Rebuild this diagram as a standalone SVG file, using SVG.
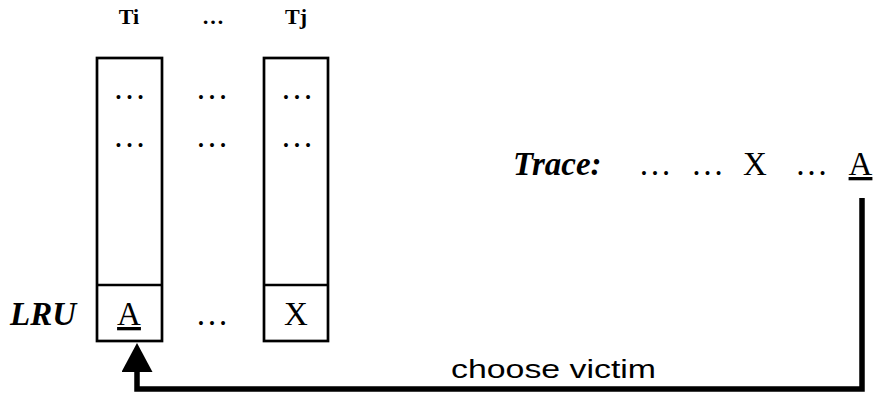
<svg xmlns="http://www.w3.org/2000/svg" width="876" height="394" viewBox="0 0 876 394">
  <defs>
    <style>
      .box { fill: #fff; stroke: #000; stroke-width: 2.7; }
      .hdr { font-family: "Liberation Serif", serif; font-weight: bold; font-size: 22px; text-anchor: middle; }
      .cell { font-family: "Liberation Serif", serif; font-size: 33px; text-anchor: middle; }
      .lbl { font-family: "Liberation Serif", serif; font-weight: bold; font-style: italic; font-size: 33px; }
      .sans { font-family: "Liberation Sans", Arial, sans-serif; font-size: 26px; }
      .wire { fill: none; stroke: #000; stroke-width: 5.5; stroke-linejoin: miter; }
    </style>
    <marker id="head" markerUnits="userSpaceOnUse" markerWidth="31" markerHeight="32" refX="1" refY="15.5" orient="auto">
      <path d="M0,0 L29,15.5 L0,31 Z" fill="#000"/>
    </marker>
  </defs>
  <rect width="876" height="394" fill="#fff"/>

  <!-- column headers -->
  <text class="hdr" x="129" y="24">Ti</text>
  <text class="hdr" x="213" y="24">…</text>
  <text class="hdr" x="296" y="24">Tj</text>

  <!-- thread Ti -->
  <g id="col-ti">
    <rect class="box" x="97" y="58" width="65" height="283"/>
    <line class="box" x1="97" y1="285" x2="162" y2="285"/>
    <text class="cell" x="129.5" y="99">…</text>
    <text class="cell" x="129.5" y="147">…</text>
    <text class="cell" x="129" y="325" text-decoration="underline">A</text>
  </g>

  <!-- middle columns -->
  <g id="col-mid">
    <text class="cell" x="212" y="99">…</text>
    <text class="cell" x="212" y="147">…</text>
    <text class="cell" x="212" y="325">…</text>
  </g>

  <!-- thread Tj -->
  <g id="col-tj">
    <rect class="box" x="264" y="58" width="64" height="283"/>
    <line class="box" x1="264" y1="285" x2="328" y2="285"/>
    <text class="cell" x="297" y="99">…</text>
    <text class="cell" x="297" y="147">…</text>
    <text class="cell" x="296" y="325">X</text>
  </g>

  <g id="lru-label">
    <text class="lbl" x="10" y="325">LRU</text>
  </g>

  <!-- access trace -->
  <g id="trace">
    <text class="lbl" x="513" y="175">Trace:</text>
    <text class="cell" x="655" y="175">…</text>
    <text class="cell" x="707.5" y="175">…</text>
    <text class="cell" x="755" y="175">X</text>
    <text class="cell" x="811.5" y="175">…</text>
    <text class="cell" x="860.5" y="175" text-decoration="underline">A</text>
  </g>

  <!-- eviction connector -->
  <g id="connectors">
    <path class="wire" d="M862,198 L862,389 L137,389 L137,371" marker-end="url(#head)"/>
    <text class="sans" x="451" y="378" textLength="205" lengthAdjust="spacingAndGlyphs">choose victim</text>
  </g>
</svg>
